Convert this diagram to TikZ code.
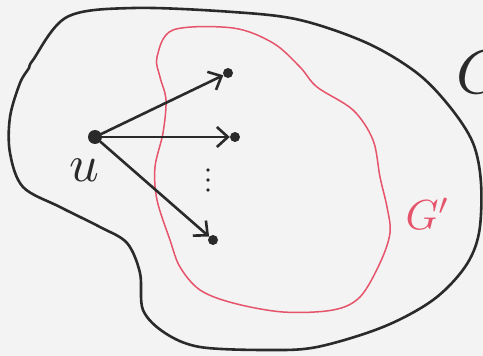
\documentclass[tikz,border=0pt]{standalone}
\usepackage{amsmath}
\usepackage{xcolor}
\usepackage{tikz}
\usetikzlibrary{positioning, arrows.meta}
\definecolor{SketchInk}{HTML}{2A2A2A}
\definecolor{SketchRed}{HTML}{E5546B}
\definecolor{paperBG}{HTML}{F3F3F3}

\begin{document}
\begin{tikzpicture}[x=1pt, y=-1pt,
    vtx/.style={circle, fill=SketchInk, inner sep=0pt, minimum size=10pt},
    edge/.style={-{Straight Barb[length=11pt, width=20pt]}, draw=SketchInk, line width=2.6pt, line cap=round}]
  \fill[paperBG] (0,0) rectangle (483,356);
  \useasboundingbox (0,0) rectangle (483,356);
  % graph G
  \draw[SketchInk, line width=2.6pt] plot[smooth cycle, tension=0.55] coordinates {
    (33,60) (67,17) (133,8) (233,12) (300,20) (367,43) (417,73) (450,107) (473,143)
    (481,183) (479,233) (465,267) (433,300) (383,327) (317,347) (267,350) (200,347)
    (165,333) (143,310) (140,273) (127,243) (100,227) (60,207) (23,187) (10,153)
    (10,117) (20,83) (29,68)};
  % subgraph G'
  \draw[SketchRed, line width=1.5pt] plot[smooth cycle, tension=0.55] coordinates {
    (157,57) (173,30) (233,28) (273,43) (300,67) (317,87) (353,110) (373,140) (380,177)
    (387,207) (390,233) (380,263) (360,297) (333,310) (283,312) (233,303) (200,290)
    (180,267) (170,240) (157,200) (155,167) (163,133) (166,100) (160,77)};
  \node[vtx, minimum size=14pt] (u) at (95,137) {};
  \node[vtx] (v1) at (228,73) {};
  \node[vtx] (v2) at (235,137) {};
  \node[vtx] (v3) at (213,240) {};
  % dots between the out-neighbours
  \foreach \y in {170,180,190}{\fill[SketchInk] (208,\y) circle (1.8);}
  \draw[edge] (u) -- (v1);
  \draw[edge] (u) -- (v2);
  \draw[edge] (u) -- (v3);
  \node[text=SketchInk, scale=5.2] (ulab) at (84,170) {$u$};
  \node[text=SketchRed, scale=4.2] (gsub) at (428,214) {$G'$};
  \node[text=SketchInk, anchor=west, inner sep=0pt, scale=6.2] (gall) at (455,72) {$G$};
\end{tikzpicture}
\end{document}
